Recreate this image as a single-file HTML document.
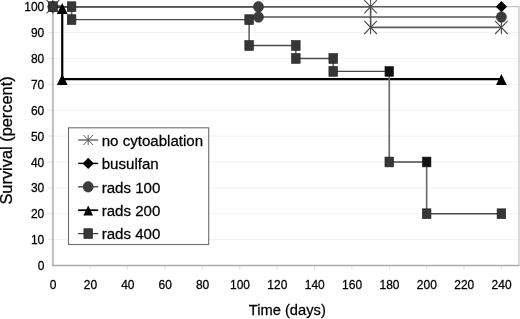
<!DOCTYPE html>
<html><head><meta charset="utf-8"><style>
html,body{margin:0;padding:0;background:#fff;}
body{width:520px;height:319px;overflow:hidden;}
svg{display:block;will-change:transform;}
text{font-family:"Liberation Sans",sans-serif;fill:#000;stroke:#000;stroke-width:0.25px;}
</style></head><body>
<svg width="520" height="319" viewBox="0 0 520 319">
<rect width="520" height="319" fill="#fff"/>

<line x1="48" x2="519" y1="239.62" y2="239.62" stroke="#f1f1f1" stroke-width="1"/>
<line x1="48" x2="519" y1="213.74" y2="213.74" stroke="#f1f1f1" stroke-width="1"/>
<line x1="48" x2="519" y1="187.86" y2="187.86" stroke="#f1f1f1" stroke-width="1"/>
<line x1="48" x2="519" y1="161.98" y2="161.98" stroke="#f1f1f1" stroke-width="1"/>
<line x1="48" x2="519" y1="136.10" y2="136.10" stroke="#f1f1f1" stroke-width="1"/>
<line x1="48" x2="519" y1="110.22" y2="110.22" stroke="#f1f1f1" stroke-width="1"/>
<line x1="48" x2="519" y1="84.34" y2="84.34" stroke="#f1f1f1" stroke-width="1"/>
<line x1="48" x2="519" y1="58.46" y2="58.46" stroke="#f1f1f1" stroke-width="1"/>
<line x1="48" x2="519" y1="32.58" y2="32.58" stroke="#f1f1f1" stroke-width="1"/>
<line x1="48.5" x2="53" y1="239.62" y2="239.62" stroke="#e6e6e6" stroke-width="1"/>
<line x1="48.5" x2="53" y1="213.74" y2="213.74" stroke="#e6e6e6" stroke-width="1"/>
<line x1="48.5" x2="53" y1="187.86" y2="187.86" stroke="#e6e6e6" stroke-width="1"/>
<line x1="48.5" x2="53" y1="161.98" y2="161.98" stroke="#e6e6e6" stroke-width="1"/>
<line x1="48.5" x2="53" y1="136.10" y2="136.10" stroke="#e6e6e6" stroke-width="1"/>
<line x1="48.5" x2="53" y1="110.22" y2="110.22" stroke="#e6e6e6" stroke-width="1"/>
<line x1="48.5" x2="53" y1="84.34" y2="84.34" stroke="#e6e6e6" stroke-width="1"/>
<line x1="48.5" x2="53" y1="58.46" y2="58.46" stroke="#e6e6e6" stroke-width="1"/>
<line x1="48.5" x2="53" y1="32.58" y2="32.58" stroke="#e6e6e6" stroke-width="1"/>
<line x1="48.5" x2="53" y1="6.70" y2="6.70" stroke="#e6e6e6" stroke-width="1"/>
<path d="M52.90,6.70H519V265.50" stroke="#c4c4c4" stroke-width="1.2" fill="none"/>
<line x1="90.28" x2="90.28" y1="265.50" y2="269.8" stroke="#e0e0e0" stroke-width="1"/>
<line x1="127.65" x2="127.65" y1="265.50" y2="269.8" stroke="#e0e0e0" stroke-width="1"/>
<line x1="165.03" x2="165.03" y1="265.50" y2="269.8" stroke="#e0e0e0" stroke-width="1"/>
<line x1="202.40" x2="202.40" y1="265.50" y2="269.8" stroke="#e0e0e0" stroke-width="1"/>
<line x1="239.78" x2="239.78" y1="265.50" y2="269.8" stroke="#e0e0e0" stroke-width="1"/>
<line x1="277.15" x2="277.15" y1="265.50" y2="269.8" stroke="#e0e0e0" stroke-width="1"/>
<line x1="314.52" x2="314.52" y1="265.50" y2="269.8" stroke="#e0e0e0" stroke-width="1"/>
<line x1="351.90" x2="351.90" y1="265.50" y2="269.8" stroke="#e0e0e0" stroke-width="1"/>
<line x1="389.27" x2="389.27" y1="265.50" y2="269.8" stroke="#e0e0e0" stroke-width="1"/>
<line x1="426.65" x2="426.65" y1="265.50" y2="269.8" stroke="#e0e0e0" stroke-width="1"/>
<line x1="464.02" x2="464.02" y1="265.50" y2="269.8" stroke="#e0e0e0" stroke-width="1"/>
<line x1="501.40" x2="501.40" y1="265.50" y2="269.8" stroke="#e0e0e0" stroke-width="1"/>
<line x1="52.90" x2="52.90" y1="6.70" y2="266.00" stroke="#c0c0c0" stroke-width="2"/>
<line x1="51.90" x2="519.5" y1="265.50" y2="265.50" stroke="#ababab" stroke-width="1.3"/>
<text x="0" y="0" font-size="12" text-anchor="end" transform="translate(44.3,270.10) scale(1,1.1)">0</text>
<text x="0" y="0" font-size="12" text-anchor="end" transform="translate(44.3,244.22) scale(1,1.1)">10</text>
<text x="0" y="0" font-size="12" text-anchor="end" transform="translate(44.3,218.34) scale(1,1.1)">20</text>
<text x="0" y="0" font-size="12" text-anchor="end" transform="translate(44.3,192.46) scale(1,1.1)">30</text>
<text x="0" y="0" font-size="12" text-anchor="end" transform="translate(44.3,166.58) scale(1,1.1)">40</text>
<text x="0" y="0" font-size="12" text-anchor="end" transform="translate(44.3,140.70) scale(1,1.1)">50</text>
<text x="0" y="0" font-size="12" text-anchor="end" transform="translate(44.3,114.82) scale(1,1.1)">60</text>
<text x="0" y="0" font-size="12" text-anchor="end" transform="translate(44.3,88.94) scale(1,1.1)">70</text>
<text x="0" y="0" font-size="12" text-anchor="end" transform="translate(44.3,63.06) scale(1,1.1)">80</text>
<text x="0" y="0" font-size="12" text-anchor="end" transform="translate(44.3,37.18) scale(1,1.1)">90</text>
<text x="0" y="0" font-size="12" text-anchor="end" transform="translate(44.3,11.30) scale(1,1.1)">100</text>
<text x="0" y="0" font-size="12" text-anchor="middle" transform="translate(53.10,289.3) scale(1,1.1)">0</text>
<text x="0" y="0" font-size="12" text-anchor="middle" transform="translate(90.48,289.3) scale(1,1.1)">20</text>
<text x="0" y="0" font-size="12" text-anchor="middle" transform="translate(127.85,289.3) scale(1,1.1)">40</text>
<text x="0" y="0" font-size="12" text-anchor="middle" transform="translate(165.22,289.3) scale(1,1.1)">60</text>
<text x="0" y="0" font-size="12" text-anchor="middle" transform="translate(202.60,289.3) scale(1,1.1)">80</text>
<text x="0" y="0" font-size="12" text-anchor="middle" transform="translate(239.97,289.3) scale(1,1.1)">100</text>
<text x="0" y="0" font-size="12" text-anchor="middle" transform="translate(277.35,289.3) scale(1,1.1)">120</text>
<text x="0" y="0" font-size="12" text-anchor="middle" transform="translate(314.72,289.3) scale(1,1.1)">140</text>
<text x="0" y="0" font-size="12" text-anchor="middle" transform="translate(352.10,289.3) scale(1,1.1)">160</text>
<text x="0" y="0" font-size="12" text-anchor="middle" transform="translate(389.47,289.3) scale(1,1.1)">180</text>
<text x="0" y="0" font-size="12" text-anchor="middle" transform="translate(426.85,289.3) scale(1,1.1)">200</text>
<text x="0" y="0" font-size="12" text-anchor="middle" transform="translate(464.22,289.3) scale(1,1.1)">220</text>
<text x="0" y="0" font-size="12" text-anchor="middle" transform="translate(501.60,289.3) scale(1,1.1)">240</text>
<text x="0" y="0" font-size="14.7" transform="translate(248.8,314.8) scale(1,1.04)">Time (days)</text>
<text x="0" y="0" font-size="14.7" transform="translate(12.4,204.6) rotate(-90) scale(1.115,1.07)">Survival (percent)</text>
<polyline points="52.90,6.70 501.40,6.70" stroke="#5a5a5a" stroke-width="1.6" fill="none"/>
<polyline points="52.90,6.70 370.59,6.70 370.59,27.40 501.40,27.40" stroke="#5a5a5a" stroke-width="1.6" fill="none"/>
<polyline points="52.90,6.70 258.46,6.70 258.46,17.05 501.40,17.05" stroke="#555" stroke-width="1.6" fill="none"/>
<polyline points="52.90,6.70 62.24,6.70 62.24,79.16 501.40,79.16" stroke="#000" stroke-width="2.2" fill="none"/>
<path d="M71.59,6.70V19.64M249.12,19.64V45.52M295.84,45.52V58.46M333.21,58.46V71.40M389.27,71.40V161.98M426.65,161.98V213.74" stroke="#6e6e6e" stroke-width="1.7" fill="none"/>
<path d="M52.90,6.70H71.59M71.59,19.64H249.12M249.12,45.52H295.84M295.84,58.46H333.21M333.21,71.40H389.27M389.27,161.98H426.65M426.65,213.74H501.40" stroke="#4a4a4a" stroke-width="1.4" fill="none"/>
<path d="M46.60,0.10L59.20,13.30M46.60,13.30L59.20,0.10M52.90,-0.10V13.50" stroke="#4d4d4d" stroke-width="1.1" fill="none"/>
<path d="M364.29,0.10L376.89,13.30M364.29,13.30L376.89,0.10M370.59,-0.10V13.50" stroke="#4d4d4d" stroke-width="1.1" fill="none"/>
<path d="M364.29,20.80L376.89,34.00M364.29,34.00L376.89,20.80M370.59,20.60V34.20" stroke="#4d4d4d" stroke-width="1.1" fill="none"/>
<path d="M495.10,20.80L507.70,34.00M495.10,34.00L507.70,20.80M501.40,20.60V34.20" stroke="#4d4d4d" stroke-width="1.1" fill="none"/>
<path d="M52.90,1.10L58.50,6.70L52.90,12.30L47.30,6.70Z" fill="#000"/>
<path d="M501.40,1.10L507.00,6.70L501.40,12.30L495.80,6.70Z" fill="#000"/>
<ellipse cx="52.90" cy="6.70" rx="5" ry="5.3" fill="#3c3c3c" stroke="#2a2a2a" stroke-width="0.6"/>
<ellipse cx="258.46" cy="6.70" rx="5" ry="5.3" fill="#3c3c3c" stroke="#2a2a2a" stroke-width="0.6"/>
<ellipse cx="258.46" cy="17.05" rx="5" ry="5.3" fill="#3c3c3c" stroke="#2a2a2a" stroke-width="0.6"/>
<ellipse cx="501.40" cy="17.05" rx="5" ry="5.3" fill="#3c3c3c" stroke="#2a2a2a" stroke-width="0.6"/>
<path d="M62.24,2.90L67.64,13.90L56.84,13.90Z" fill="#000"/>
<path d="M62.24,74.06L67.64,85.06L56.84,85.06Z" fill="#000"/>
<path d="M501.40,74.06L506.80,85.06L496.00,85.06Z" fill="#000"/>
<rect x="48.60" y="1.80" width="8.6" height="9.8" fill="#363636" stroke="#1e1e1e" stroke-width="0.6"/>
<rect x="67.29" y="1.80" width="8.6" height="9.8" fill="#363636" stroke="#1e1e1e" stroke-width="0.6"/>
<rect x="67.29" y="14.74" width="8.6" height="9.8" fill="#363636" stroke="#1e1e1e" stroke-width="0.6"/>
<rect x="244.82" y="14.74" width="8.6" height="9.8" fill="#363636" stroke="#1e1e1e" stroke-width="0.6"/>
<rect x="244.82" y="40.62" width="8.6" height="9.8" fill="#363636" stroke="#1e1e1e" stroke-width="0.6"/>
<rect x="291.54" y="40.62" width="8.6" height="9.8" fill="#363636" stroke="#1e1e1e" stroke-width="0.6"/>
<rect x="291.54" y="53.56" width="8.6" height="9.8" fill="#363636" stroke="#1e1e1e" stroke-width="0.6"/>
<rect x="328.91" y="53.56" width="8.6" height="9.8" fill="#363636" stroke="#1e1e1e" stroke-width="0.6"/>
<rect x="328.91" y="66.50" width="8.6" height="9.8" fill="#363636" stroke="#1e1e1e" stroke-width="0.6"/>
<rect x="384.97" y="66.50" width="8.6" height="9.8" fill="#101010" stroke="#1e1e1e" stroke-width="0.6"/>
<rect x="384.97" y="157.08" width="8.6" height="9.8" fill="#363636" stroke="#1e1e1e" stroke-width="0.6"/>
<rect x="422.35" y="157.08" width="8.6" height="9.8" fill="#101010" stroke="#1e1e1e" stroke-width="0.6"/>
<rect x="422.35" y="208.84" width="8.6" height="9.8" fill="#363636" stroke="#1e1e1e" stroke-width="0.6"/>
<rect x="497.10" y="208.84" width="8.6" height="9.8" fill="#363636" stroke="#1e1e1e" stroke-width="0.6"/>
<rect x="68.5" y="127.8" width="140.2" height="116.7" fill="#fff" stroke="#6e6e6e" stroke-width="1.1"/>
<line x1="78.2" x2="98.2" y1="140" y2="140" stroke="#3a3a3a" stroke-width="1.1"/>
<path d="M83.41,134.98L92.99,145.02M83.41,145.02L92.99,134.98M88.20,134.83V145.17" stroke="#5a5a5a" stroke-width="1.0" fill="none"/>
<text x="0" y="0" font-size="15.1" transform="translate(101.7,145.80) scale(1,1.01)">no cytoablation</text>
<line x1="78.2" x2="98.2" y1="163.4" y2="163.4" stroke="#000" stroke-width="1.4"/>
<path d="M88.20,157.80L93.80,163.40L88.20,169.00L82.60,163.40Z" fill="#000"/>
<text x="0" y="0" font-size="15.1" transform="translate(101.7,169.20) scale(1,1.01)">busulfan</text>
<line x1="78.2" x2="98.2" y1="186.8" y2="186.8" stroke="#3a3a3a" stroke-width="1.3"/>
<ellipse cx="88.20" cy="186.80" rx="5" ry="5.3" fill="#3c3c3c" stroke="#2a2a2a" stroke-width="0.6"/>
<text x="0" y="0" font-size="15.1" transform="translate(101.7,192.60) scale(1,1.01)">rads 100</text>
<line x1="78.2" x2="98.2" y1="210.2" y2="210.2" stroke="#000" stroke-width="1.8"/>
<path d="M88.20,205.61L93.06,215.51L83.34,215.51Z" fill="#000"/>
<text x="0" y="0" font-size="15.1" transform="translate(101.7,216.00) scale(1,1.01)">rads 200</text>
<line x1="78.2" x2="98.2" y1="233.6" y2="233.6" stroke="#3a3a3a" stroke-width="1.3"/>
<rect x="83.90" y="228.70" width="8.6" height="9.8" fill="#363636" stroke="#1e1e1e" stroke-width="0.6"/>
<text x="0" y="0" font-size="15.1" transform="translate(101.7,239.40) scale(1,1.01)">rads 400</text>
</svg></body></html>
